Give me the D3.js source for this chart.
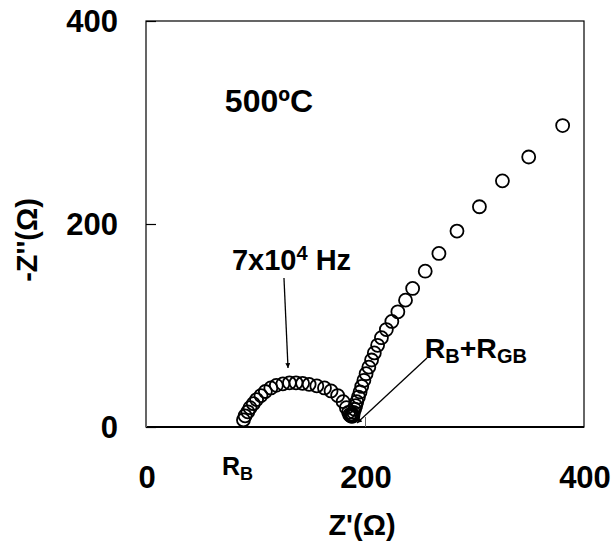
<!DOCTYPE html>
<html>
<head>
<meta charset="utf-8">
<script src="https://cdn.jsdelivr.net/npm/d3@7"></script>
<style>
  html, body { margin: 0; padding: 0; background: #fff; }
  svg { display: block; }
  text { font-family: "Liberation Sans", Arial, Helvetica, sans-serif; font-weight: bold; fill: #000; }
</style>
</head>
<body>
<svg id="chart" width="612" height="542"></svg>
<script>
const zReal = [
  89, 90.5, 93, 95, 98, 101, 105, 109, 114, 119, 125, 131, 137, 143, 149, 156, 163, 169, 175, 180, 183, 185, 186,
  187, 188, 189, 187.5, 188.5,
  189.5, 190.5, 191.5, 192.5, 194, 195.5, 197, 199, 201, 203.5, 206, 208.5, 211.5, 215, 219.5, 224.5, 230, 237,
  243.5, 255, 267.5, 284, 304.5, 325.5, 349.5, 380.5
];
const zImag = [
  7, 11, 15, 19, 23, 27, 31, 35, 38.5, 41, 42.5, 43.5, 43.5, 43, 42, 40.5, 38.5, 35.5, 31, 25, 19, 14.5, 12,
  11, 10.5, 11, 11.5, 12.5,
  14.5, 17.5, 21, 25, 29.5, 34.5, 40, 46, 52.5, 59, 66, 73, 80.5, 88, 96, 104, 113.5, 125,
  136.5, 153.5, 171, 193, 217, 242.5, 266, 297
];
const xTicks = [0, 200, 400];
const yTicks = [0, 200, 400];
const xDomain = [0, 400];
const yDomain = [0, 400];

const svg = d3.select("#chart");
const pLeft = 146, pRight = 584, pTop = 21, pBottom = 427;
const x = d3.scaleLinear().domain(xDomain).range([pLeft, pRight]);
const y = d3.scaleLinear().domain(yDomain).range([pBottom, pTop]);

// frame
svg.append("rect").attr("x", pLeft).attr("y", pTop).attr("width", pRight - pLeft).attr("height", pBottom - pTop)
  .attr("fill", "none").attr("stroke", "#000").attr("stroke-width", 1.2);
svg.append("line").attr("x1", pLeft).attr("x2", pRight).attr("y1", pBottom).attr("y2", pBottom)
  .attr("stroke", "#000").attr("stroke-width", 2);

// axes with inward ticks
const yAxis = d3.axisRight(y).tickValues(yTicks).tickSize(10).tickFormat("");
const gy = svg.append("g").attr("transform", `translate(${pLeft},0)`).call(yAxis);
gy.select(".domain").remove();
gy.selectAll(".tick line").attr("stroke", "#000").attr("stroke-width", 1.2);

const xAxis = d3.axisTop(x).tickValues(xTicks).tickSize(10).tickFormat("");
const gx = svg.append("g").attr("transform", `translate(0,${pBottom})`).call(xAxis);
gx.select(".domain").remove();
gx.selectAll(".tick line").attr("stroke", "#666").attr("stroke-width", 1);

// tick labels
svg.append("g").selectAll("text").data(yTicks).join("text")
  .attr("x", 118).attr("y", d => y(d)).attr("dy", "0.36em")
  .attr("text-anchor", "end").attr("font-size", 31).text(d => d);
svg.append("g").selectAll("text").data(xTicks).join("text")
  .attr("x", d => x(d) + 1).attr("y", 488)
  .attr("text-anchor", "middle").attr("font-size", 31).text(d => d);

// axis titles
svg.append("text").attr("x", 362).attr("y", 535).attr("text-anchor", "middle")
  .attr("font-size", 29).text("Z'(Ω)");
svg.append("text").attr("transform", "translate(37,240) rotate(-90)").attr("text-anchor", "middle")
  .attr("font-size", 29).text("-Z''(Ω)");

// data points
svg.append("g").selectAll("circle").data(zReal.map((v, i) => [v, zImag[i]])).join("circle")
  .attr("cx", d => x(d[0])).attr("cy", d => y(d[1])).attr("r", 6.5)
  .attr("fill", "none").attr("stroke", "#000").attr("stroke-width", 1.8);

// arrow marker
svg.append("defs").append("marker").attr("id", "ah").attr("viewBox", "0 0 10 10")
  .attr("refX", 10).attr("refY", 5).attr("markerWidth", 7).attr("markerHeight", 5)
  .attr("markerUnits", "userSpaceOnUse").attr("orient", "auto")
  .append("path").attr("d", "M0,0 L10,5 L0,10 z").attr("fill", "#000");

// annotations
svg.append("text").attr("x", x(72)).attr("y", y(310.3)).attr("font-size", 32).text("500ºC");

const t1 = svg.append("text").attr("x", x(78.5)).attr("y", y(154.7)).attr("font-size", 29);
t1.append("tspan").text("7x10");
t1.append("tspan").attr("font-size", 20).attr("dy", -10).text("4");
t1.append("tspan").attr("dy", 10).text(" Hz");
svg.append("line").attr("x1", x(126)).attr("y1", y(146.8)).attr("x2", x(129.7)).attr("y2", y(58.1))
  .attr("stroke", "#000").attr("stroke-width", 1.3).attr("marker-end", "url(#ah)");

const t2 = svg.append("text").attr("x", x(254.5)).attr("y", y(68)).attr("font-size", 28.5);
t2.append("tspan").text("R");
t2.append("tspan").attr("font-size", 20).attr("dy", 5).text("B");
t2.append("tspan").attr("dy", -5).text("+R");
t2.append("tspan").attr("font-size", 20).attr("dy", 5).text("GB");
svg.append("line").attr("x1", x(256.6)).attr("y1", y(68)).attr("x2", x(192.7)).attr("y2", y(3.9))
  .attr("stroke", "#000").attr("stroke-width", 1.3).attr("marker-end", "url(#ah)");

const t3 = svg.append("text").attr("x", 222).attr("y", 475).attr("font-size", 25);
t3.append("tspan").text("R");
t3.append("tspan").attr("font-size", 18).attr("dy", 5).text("B");
</script>
</body>
</html>
